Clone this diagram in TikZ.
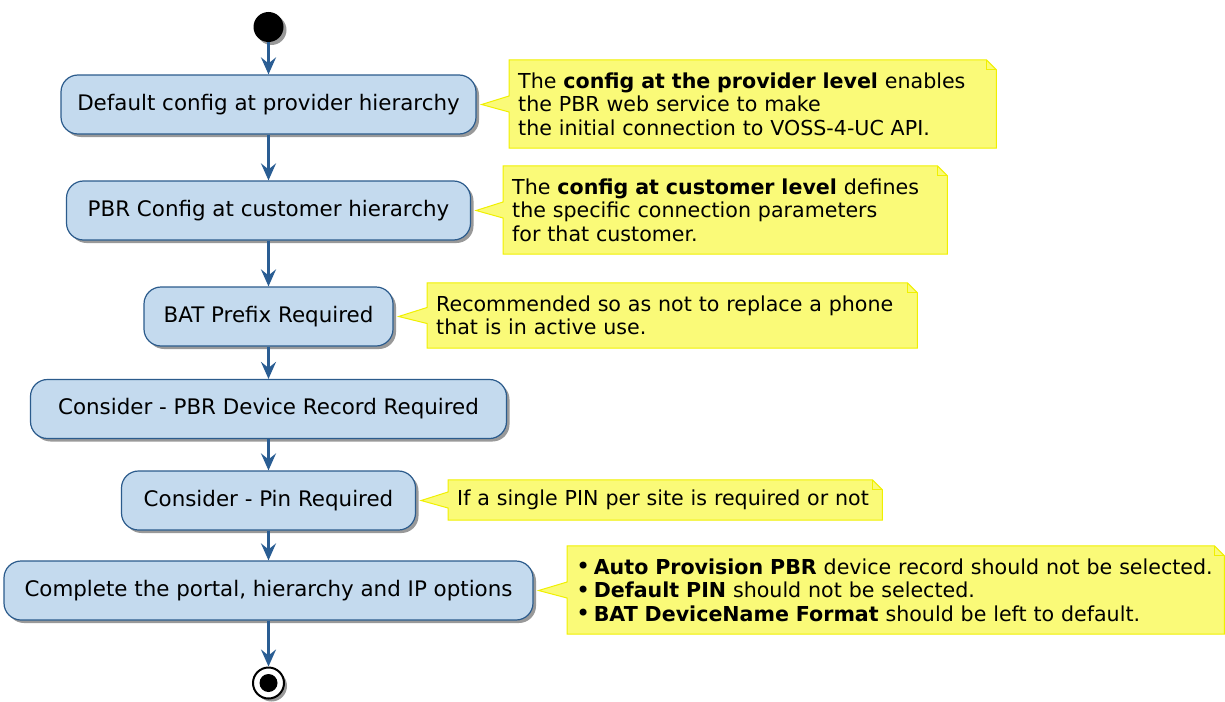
\documentclass[tikz,border=0pt]{standalone}
\usepackage{fontspec}
\setmainfont{DejaVu Sans}
\usetikzlibrary{positioning,calc,arrows.meta,backgrounds,shadows}
\definecolor{actfill}{HTML}{C4DAEE}
\definecolor{actline}{HTML}{2B5B8C}
\definecolor{flowblue}{HTML}{2A5D93}
\definecolor{notefill}{HTML}{FAFA78}
\definecolor{noteline}{HTML}{F0F000}

\begin{document}
\begin{tikzpicture}[x=1pt,y=-1pt,
    act/.style={rectangle,rounded corners=17pt,draw=actline,line width=1.2pt,
                fill=actfill,minimum height=59pt,inner sep=0pt,
                font=\fontsize{21.4}{26}\selectfont,
                drop shadow={shadow xshift=3pt,shadow yshift=-3pt,opacity=.4,fill=black}},
    note/.style={rectangle,anchor=west,align=left,inner xsep=9pt,inner ysep=0pt,
                 font=\fontsize{20.6}{23.5}\selectfont},
    notebox/.style={draw=noteline,fill=notefill,line width=1pt,line join=miter},
    flow/.style={draw=flowblue,line width=2.3pt,
                 -{Stealth[length=17pt,width=15pt,inset=6pt]}},
    startdot/.style={circle,fill=black,minimum size=30pt,inner sep=0pt,
                 drop shadow={shadow xshift=3pt,shadow yshift=-3pt,opacity=.4,fill=black}},
    stopring/.style={circle,draw=black,line width=2pt,fill=white,minimum size=31pt,inner sep=0pt,
                 drop shadow={shadow xshift=3pt,shadow yshift=-3pt,opacity=.4,fill=black}},
  ]
    \useasboundingbox (0,0) rectangle (1225,701);

    % start / stop
    \node[startdot] (start) at (268.5,27) {};
    \node[stopring] (stop) at (268.5,683) {};
    \node[circle,fill=black,minimum size=18pt,inner sep=0pt] (stopdot) at (stop) {};

    % activities, all on one column
    \node[act,minimum width=415pt] (prov)   at (268.5,104.5) {Default config at provider hierarchy};
    \node[act,minimum width=404pt] (cust)   at (268.5,210.5) {PBR Config at customer hierarchy};
    \node[act,minimum width=249pt] (batpfx) at (268.5,316.5) {BAT Prefix Required};
    \node[act,minimum width=476pt] (devrec) at (268.5,409)   {Consider - PBR Device Record Required};
    \node[act,minimum width=294pt] (pin)    at (268.5,500.5) {Consider - Pin Required};
    \node[act,minimum width=529pt] (portal) at (268.5,590.5) {Complete the portal, hierarchy and IP options};

    % notes (text only, the outline goes on the background)
    \node[note,text width=469pt,minimum height=88pt] (provnote) at (509,104)
      {The \textbf{config at the provider level} enables\\the PBR web service to make\\the initial connection to VOSS-4-UC API.};
    \node[note,text width=426pt,minimum height=88pt] (custnote) at (503,210)
      {The \textbf{config at customer level} defines\\the specific connection parameters\\for that customer.};
    \node[note,text width=472pt,minimum height=65pt] (batnote) at (427,315.5)
      {Recommended so as not to replace a phone\\that is in active use.};
    \node[note,text width=416pt,minimum height=40pt] (pinnote) at (448,500)
      {If a single PIN per site is required or not};
    \node[note,text width=639pt,minimum height=88pt] (portalnote) at (567,590)
      {{\fontsize{24}{23.5}\selectfont\raisebox{-.5pt}{•}}\,\textbf{Auto Provision PBR} device record should not be selected.\\
       {\fontsize{24}{23.5}\selectfont\raisebox{-.5pt}{•}}\,\textbf{Default PIN} should not be selected.\\
       {\fontsize{24}{23.5}\selectfont\raisebox{-.5pt}{•}}\,\textbf{BAT DeviceName Format} should be left to default.};

    \begin{scope}[on background layer]
      \foreach \nt/\ac in {provnote/prov,custnote/cust,batnote/batpfx,pinnote/pin,portalnote/portal}{
        \draw[notebox] (\nt.north west) -- ($(\nt.north east)+(-10,0)$) -- ($(\nt.north east)+(0,10)$)
          -- (\nt.south east) -- (\nt.south west) -- ($(\nt.west)+(0,8)$)
          -- ($(\ac.east)+(5,0)$) -- ($(\nt.west)+(0,-8)$) -- cycle;
        \draw[notebox,fill=none] ($(\nt.north east)+(-10,0)$) -- ($(\nt.north east)+(-10,10)$)
          -- ($(\nt.north east)+(0,10)$);
      }
    \end{scope}

    % flow
    \draw[flow] (start) -- (prov);
    \draw[flow] (prov) -- (cust);
    \draw[flow] (cust) -- (batpfx);
    \draw[flow] (batpfx) -- (devrec);
    \draw[flow] (devrec) -- (pin);
    \draw[flow] (pin) -- (portal);
    \draw[flow] (portal) -- (stop);
  \end{tikzpicture}
\end{document}
